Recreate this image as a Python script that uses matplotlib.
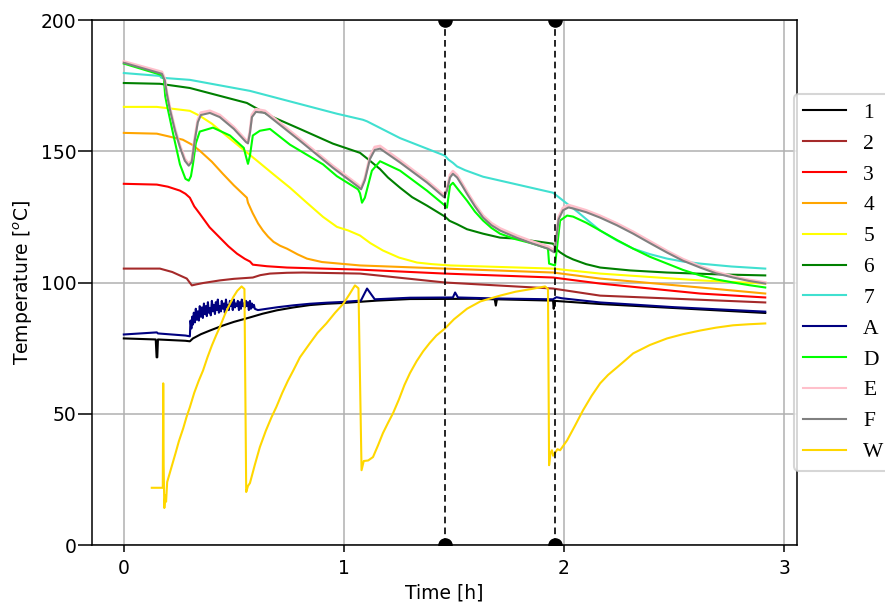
import matplotlib
matplotlib.use('Agg')
import matplotlib.pyplot as plt

plt.rcParams.update({'font.size': 13.5})

# sensor readings, (time [h], temperature [C])
s1 = [(0.0, 78.7), (0.145, 78.3), (0.149, 71.5), (0.152, 71.5), (0.155, 78.3), (0.28, 77.8),
      (0.30, 77.6), (0.314, 78.7), (0.35, 80.3), (0.391, 81.7), (0.45, 83.6), (0.50, 85.0),
      (0.573, 86.7), (0.63, 88.1), (0.695, 89.4), (0.77, 90.5), (0.845, 91.4), (0.92, 91.9),
      (0.995, 92.2), (1.15, 93.1), (1.30, 93.7), (1.60, 93.8), (1.685, 93.6), (1.69, 91.2),
      (1.695, 93.6), (1.95, 93.1), (1.953, 90.0), (1.958, 93.0), (2.164, 91.8), (2.914, 88.4)]
s2 = [(0.0, 105.3), (0.164, 105.3), (0.22, 104.0), (0.286, 101.5), (0.309, 98.9), (0.33, 99.3),
      (0.36, 99.8), (0.436, 100.8), (0.50, 101.4), (0.586, 101.9), (0.62, 102.8), (0.664, 103.4),
      (0.74, 103.7), (0.814, 103.8), (1.073, 103.4), (1.459, 100.0), (1.95, 97.7), (2.164, 95.0),
      (2.914, 92.4)]
s3 = [(0.0, 137.6), (0.15, 137.3), (0.20, 136.5), (0.255, 135.0), (0.28, 133.8), (0.30, 132.3),
      (0.32, 129.0), (0.345, 126.2), (0.39, 121.0), (0.436, 117.1), (0.475, 113.8), (0.514, 111.0),
      (0.55, 109.0), (0.573, 108.0), (0.586, 106.8), (0.65, 106.2), (0.741, 105.7), (1.073, 104.9),
      (1.459, 103.4), (1.95, 101.9), (2.164, 99.6), (2.618, 95.8), (2.914, 94.3)]
s4 = [(0.0, 157.0), (0.15, 156.7), (0.268, 154.4), (0.31, 152.5), (0.345, 150.2), (0.40, 146.0),
      (0.45, 141.4), (0.50, 137.0), (0.559, 132.3), (0.564, 130.4), (0.585, 126.5), (0.61, 122.5),
      (0.632, 119.8), (0.655, 117.5), (0.68, 115.5), (0.71, 114.0), (0.741, 112.9), (0.79, 110.7),
      (0.832, 109.1), (0.90, 107.8), (1.073, 106.5), (1.459, 105.3), (1.95, 103.8), (2.164, 101.5),
      (2.618, 98.1), (2.914, 95.8)]
s5 = [(0.0, 166.9), (0.15, 166.9), (0.30, 165.4), (0.345, 163.5), (0.40, 160.5), (0.45, 157.0),
      (0.53, 151.5), (0.605, 146.4), (0.68, 141.2), (0.755, 136.1), (0.83, 130.5), (0.905, 125.0),
      (0.968, 121.2), (1.02, 119.8), (1.073, 117.9), (1.12, 115.0), (1.177, 112.2), (1.25, 109.5),
      (1.332, 107.6), (1.40, 107.0), (1.482, 106.5), (1.95, 105.3), (2.164, 103.4), (2.618, 100.8),
      (2.914, 99.6)]
s6 = [(0.0, 176.0), (0.164, 175.7), (0.30, 174.1), (0.559, 168.4), (0.664, 163.5), (0.80, 158.5),
      (0.95, 152.9), (1.073, 149.4), (1.118, 146.4), (1.164, 143.2), (1.20, 140.0), (1.255, 136.1),
      (1.31, 132.5), (1.377, 129.3), (1.459, 125.1), (1.48, 123.5), (1.514, 122.2), (1.559, 120.3),
      (1.632, 118.6), (1.709, 117.1), (1.786, 116.7), (1.95, 114.8), (1.968, 112.5), (1.982, 111.5),
      (2.01, 110.0), (2.041, 108.8), (2.10, 107.0), (2.164, 105.7), (2.30, 104.6), (2.468, 103.8),
      (2.70, 103.1), (2.914, 102.7)]
s7 = [(0.0, 179.8), (0.164, 178.7), (0.17, 178.0), (0.30, 177.2), (0.573, 173.0), (0.80, 168.0),
      (0.968, 164.3), (1.086, 162.0), (1.105, 161.4), (1.255, 155.0), (1.459, 148.3), (1.475, 146.8),
      (1.495, 145.6), (1.514, 144.2), (1.55, 142.8), (1.632, 140.3), (1.95, 134.2), (2.014, 130.0),
      (2.06, 127.0), (2.11, 123.5), (2.164, 119.8), (2.24, 116.0), (2.314, 112.9), (2.39, 110.8),
      (2.468, 109.1), (2.54, 108.0), (2.618, 107.2), (2.76, 106.1), (2.914, 105.3)]
sA = [(0.0, 80.2), (0.15, 81.0), (0.155, 80.6), (0.28, 79.8), (0.30, 79.5),
      (0.303, 85.5), (0.307, 82.5), (0.311, 87.0), (0.314, 84.0), (0.318, 88.5), (0.323, 84.8),
      (0.327, 90.0), (0.332, 85.8), (0.336, 89.0), (0.341, 85.5), (0.345, 91.0), (0.350, 87.0),
      (0.355, 90.5), (0.359, 86.5), (0.364, 92.0), (0.368, 88.0), (0.373, 91.0), (0.377, 87.2),
      (0.382, 92.5), (0.386, 88.5), (0.391, 90.2), (0.395, 87.5), (0.400, 93.0), (0.405, 89.0),
      (0.409, 91.5), (0.414, 88.0), (0.418, 92.5), (0.423, 89.5), (0.427, 93.5), (0.432, 88.5),
      (0.436, 91.0), (0.441, 89.0), (0.445, 93.0), (0.450, 90.0), (0.455, 92.0), (0.459, 88.5),
      (0.464, 93.5), (0.468, 90.5), (0.473, 91.5), (0.477, 89.5), (0.482, 93.0), (0.486, 91.0),
      (0.491, 92.5), (0.495, 89.5), (0.500, 93.5), (0.505, 90.5), (0.509, 92.0), (0.514, 91.0),
      (0.518, 93.0), (0.523, 89.5), (0.527, 92.5), (0.532, 90.0), (0.536, 93.5), (0.541, 91.0),
      (0.545, 92.0), (0.550, 90.5), (0.555, 93.0), (0.559, 91.0), (0.564, 92.5), (0.568, 89.5),
      (0.573, 93.0), (0.577, 90.0), (0.582, 92.0), (0.586, 90.5), (0.591, 91.5), (0.595, 90.0),
      (0.600, 89.8), (0.609, 89.5),
      (0.618, 89.6), (0.65, 90.0), (0.70, 90.6), (0.77, 91.3), (0.845, 91.9), (0.92, 92.3),
      (0.995, 92.6), (1.077, 93.1), (1.105, 97.7), (1.14, 93.6), (1.30, 94.2), (1.495, 94.3),
      (1.505, 96.2), (1.518, 94.3), (1.70, 93.9), (1.95, 93.6), (1.965, 94.4), (1.99, 94.0),
      (2.164, 92.4), (2.50, 90.6), (2.914, 88.9)]
sD = [(0.0, 183.4), (0.173, 179.0), (0.182, 177.5), (0.188, 171.0), (0.195, 168.0), (0.223, 157.0),
      (0.255, 145.0), (0.28, 139.5), (0.295, 138.8), (0.305, 140.5), (0.314, 145.0), (0.327, 153.0),
      (0.345, 157.5), (0.405, 159.0), (0.482, 156.0), (0.545, 151.3), (0.555, 148.0), (0.564, 145.2),
      (0.573, 148.3), (0.586, 156.0), (0.618, 157.8), (0.664, 158.5), (0.755, 152.5), (0.905, 145.0),
      (0.968, 140.5), (1.064, 135.5), (1.073, 134.0), (1.082, 130.4), (1.095, 132.3), (1.127, 142.6),
      (1.164, 146.2), (1.255, 142.6), (1.377, 135.0), (1.459, 129.3), (1.468, 128.5), (1.482, 136.9),
      (1.495, 138.0), (1.52, 135.3), (1.559, 131.2), (1.595, 127.0), (1.632, 123.6), (1.67, 120.8),
      (1.709, 118.6), (1.78, 116.5), (1.859, 114.8), (1.927, 112.9), (1.932, 107.2), (1.959, 106.5),
      (1.968, 113.3), (1.982, 123.6), (2.014, 125.5), (2.041, 125.1), (2.10, 122.8), (2.164, 119.8),
      (2.24, 116.2), (2.314, 112.9), (2.39, 109.8), (2.468, 107.2), (2.54, 104.8), (2.618, 102.7),
      (2.69, 101.2), (2.768, 100.0), (2.84, 99.0), (2.914, 98.1)]
sE = [(0.0, 184.2), (0.173, 180.2), (0.186, 177.7), (0.195, 172.7), (0.209, 166.7), (0.232, 158.7),
      (0.255, 152.2), (0.277, 147.1), (0.295, 145.2), (0.309, 146.7), (0.322, 154.8), (0.336, 161.9),
      (0.35, 164.7), (0.391, 165.4), (0.436, 163.8), (0.50, 159.2), (0.555, 154.2), (0.564, 153.7),
      (0.573, 157.7), (0.582, 163.9), (0.60, 166.0), (0.641, 165.4), (0.80, 154.7), (0.95, 144.4),
      (1.064, 137.2), (1.078, 136.2), (1.095, 139.7), (1.118, 147.9), (1.14, 151.6), (1.164, 152.0),
      (1.255, 146.5), (1.377, 138.8), (1.455, 133.2), (1.468, 135.7), (1.482, 141.0), (1.495, 142.4),
      (1.514, 140.9), (1.535, 138.0), (1.559, 134.6), (1.595, 129.8), (1.632, 125.5), (1.67, 122.6),
      (1.709, 120.6), (1.75, 119.1), (1.786, 117.8), (1.85, 115.8), (1.927, 113.7), (1.955, 112.3),
      (1.964, 116.8), (1.975, 124.8), (1.995, 128.4), (2.02, 129.5), (2.041, 129.0), (2.10, 127.5),
      (2.164, 125.4), (2.24, 122.5), (2.314, 119.3), (2.39, 115.7), (2.468, 112.0), (2.54, 108.9),
      (2.618, 106.2), (2.69, 104.0), (2.768, 102.3), (2.84, 101.0), (2.914, 100.0)]
sF = [(0.0, 183.7), (0.173, 179.5), (0.186, 177.0), (0.195, 172.0), (0.209, 166.0), (0.232, 158.0),
      (0.255, 151.5), (0.277, 146.4), (0.295, 144.5), (0.309, 146.0), (0.322, 154.0), (0.336, 161.0),
      (0.35, 163.8), (0.391, 164.6), (0.436, 163.0), (0.50, 158.5), (0.555, 153.5), (0.564, 153.0),
      (0.573, 157.0), (0.582, 163.0), (0.60, 165.0), (0.641, 164.6), (0.80, 154.0), (0.95, 143.7),
      (1.064, 136.5), (1.078, 135.5), (1.095, 139.0), (1.118, 147.0), (1.14, 150.5), (1.164, 151.0),
      (1.255, 145.7), (1.377, 138.1), (1.455, 132.5), (1.468, 135.0), (1.482, 140.0), (1.495, 141.4),
      (1.514, 140.0), (1.535, 137.2), (1.559, 133.8), (1.595, 129.0), (1.632, 124.7), (1.67, 121.8),
      (1.709, 119.8), (1.75, 118.3), (1.786, 117.0), (1.85, 115.0), (1.927, 112.9), (1.955, 111.5),
      (1.964, 116.0), (1.975, 124.0), (1.995, 127.5), (2.02, 128.6), (2.041, 128.2), (2.10, 126.8),
      (2.164, 124.7), (2.24, 121.8), (2.314, 118.6), (2.39, 115.0), (2.468, 111.4), (2.54, 108.3),
      (2.618, 105.7), (2.69, 103.5), (2.768, 101.9), (2.84, 100.6), (2.914, 99.6)]
sW = [(0.127, 21.8), (0.177, 21.8), (0.179, 61.6), (0.181, 30.0), (0.184, 14.1), (0.188, 19.0),
      (0.192, 16.5), (0.197, 24.0), (0.217, 29.8), (0.235, 35.0), (0.25, 39.5), (0.27, 44.5),
      (0.285, 48.8), (0.30, 52.5), (0.32, 58.0), (0.34, 62.5), (0.36, 66.5), (0.38, 71.5),
      (0.40, 76.0), (0.42, 80.0), (0.436, 83.0), (0.46, 88.0), (0.48, 91.5), (0.497, 94.4),
      (0.515, 96.8), (0.535, 98.5), (0.548, 97.5), (0.556, 20.2), (0.564, 22.5), (0.573, 23.6),
      (0.595, 30.5), (0.618, 37.3), (0.645, 43.5), (0.67, 48.5), (0.693, 52.6), (0.72, 58.0),
      (0.745, 62.5), (0.77, 66.5), (0.80, 71.5), (0.845, 76.8), (0.88, 80.8), (0.92, 84.4),
      (0.96, 88.5), (0.997, 91.9), (1.025, 95.5), (1.05, 98.9), (1.066, 97.8), (1.08, 28.5),
      (1.09, 32.0), (1.11, 32.2), (1.132, 33.5), (1.155, 38.0), (1.177, 42.6), (1.20, 46.5),
      (1.223, 50.2), (1.25, 55.5), (1.275, 61.0), (1.30, 65.5), (1.33, 70.0), (1.36, 73.8),
      (1.39, 77.0), (1.42, 79.8), (1.459, 82.5), (1.50, 86.0), (1.559, 90.0), (1.62, 92.8),
      (1.709, 95.0), (1.78, 96.5), (1.85, 97.5), (1.914, 98.5), (1.927, 97.5), (1.932, 30.4),
      (1.938, 35.0), (1.945, 36.1), (1.95, 34.0), (1.97, 36.5), (1.982, 36.1), (2.014, 39.9),
      (2.05, 45.5), (2.086, 51.3), (2.125, 56.8), (2.164, 61.6), (2.20, 64.8), (2.241, 67.7),
      (2.28, 70.5), (2.314, 73.0), (2.39, 76.2), (2.468, 78.7), (2.54, 80.3), (2.618, 81.7),
      (2.69, 82.8), (2.768, 83.7), (2.84, 84.1), (2.914, 84.4)]

labels = ['1', '2', '3', '4', '5', '6', '7', 'A', 'D', 'E', 'F', 'W']
colors = ['black', 'brown', 'red', 'orange', 'yellow', 'green', 'turquoise',
          'navy', 'lime', 'pink', 'gray', 'gold']
series = [s1, s2, s3, s4, s5, s6, s7, sA, sD, sE, sF, sW]

# times of the two marked events
events = [1.459, 1.959]

fig = plt.figure(figsize=(8.85, 6.08), dpi=100)
ax = fig.add_axes([0.1036, 0.1036, 0.7964, 0.8635])

for data, lab, col in zip(series, labels, colors):
    t = [p[0] for p in data]
    T = [p[1] for p in data]
    lw = 2.0 if lab == 'E' else 1.5
    ax.plot(t, T, color=col, lw=lw, label=lab)

for ev in events:
    ax.plot([ev, ev], [0, 200], 'ko--', lw=1.2, markersize=9.5, dashes=(4, 2.5))

ax.set_xlim(-0.146, 3.056)
ax.set_ylim(0, 200)
ax.set_xticks([0, 1, 2, 3])
ax.set_yticks([0, 50, 100, 150, 200])
ax.grid(color='#b0b0b0', lw=1.1)
for sp in ax.spines.values():
    sp.set_linewidth(1.1)
ax.tick_params(axis='y', length=10, width=1.1, pad=1)
ax.tick_params(axis='x', length=5, width=1.1, pad=5)

ax.set_xlabel('Time [h]')
ax.set_ylabel('Temperature [$^o$C]')

leg = ax.legend(loc='center left', bbox_to_anchor=(0.997, 0.5), borderaxespad=0,
                prop={'family': 'Liberation Serif', 'size': 15.5})
leg.get_frame().set_linewidth(1.5)
for h in leg.legend_handles:
    h.set_linewidth(1.5)

fig.savefig('out.png', dpi=100)
